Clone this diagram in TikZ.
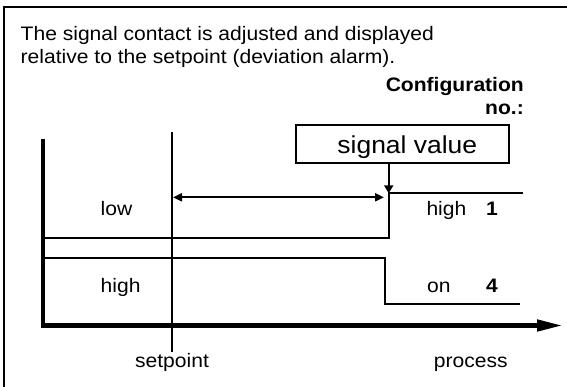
\documentclass[tikz,border=0pt]{standalone}
\usepackage{fontspec}
\setmainfont{Liberation Sans}[FakeStretch=1.08]
\usetikzlibrary{arrows.meta}
\begin{document}
\begin{tikzpicture}[x=1pt,y=-1pt,
  thin line/.style={line width=2pt, line cap=butt},
  axis line/.style={line width=4.5pt, line join=miter},
  txt/.style={inner sep=0pt, anchor=base west, font=\fontsize{19.5}{23}\selectfont},
  ctxt/.style={inner sep=0pt, anchor=base, font=\fontsize{19.5}{23}\selectfont},
  btxt/.style={inner sep=0pt, font=\fontsize{19.5}{23}\selectfont\bfseries},
  smalltip/.tip={Triangle[length=9pt,width=8pt]},
  bigtip/.tip={Triangle[length=26pt,width=11pt]}]
\useasboundingbox (0,0) rectangle (567,387);

% frame (top and left edges)
\coordinate (fTL) at (3.5,7.5);
\coordinate (fTR) at (567,7.5);
\coordinate (fBL) at (3.5,387);
\draw[thin line] (fTR) -- (fTL) -- (fBL);

% heading
\node[txt] (head1) at (20.5,40.7) {The signal contact is adjusted and displayed};
\node[txt] (head2) at (20.5,63.3) {relative to the setpoint (deviation alarm).};
\node[btxt, anchor=base east] (conf) at (524,91.7) {Configuration};
\node[btxt, anchor=base east] (confno) at (524,115) {no.:};

% signal value box
\node[draw, line width=2pt, minimum width=212.7pt, minimum height=38.5pt, inner sep=0pt]
  (sv) at (402.3,144.2) {};
\node[inner sep=0pt, anchor=base, font=\fontsize{24.5}{28}\selectfont] (svtxt) at (407.3,153.3) {signal value};

% axes
\coordinate (yTop) at (43,139);
\coordinate (xEnd) at (563,325.5);
\draw[axis line, -{bigtip}] (yTop) |- (xEnd);

% setpoint line
\coordinate (spTop) at (172,132);
\coordinate (spBot) at (172,352);
\draw[thin line] (spTop) -- (spBot);
\node[ctxt] (setpoint) at (172,367) {setpoint};
\node[ctxt] (process) at (470.7,367) {process};

% hysteresis distance
\coordinate (dA) at (173,197.3);
\coordinate (dB) at (384,197.3);
\draw[thin line, {smalltip}-{smalltip}] (dA) -- (dB);

% signal value pointer
\coordinate (svTip) at (388.7,193.3);
\draw[thin line, -{Triangle[length=8pt,width=9pt]}] (sv.south -| svTip) -- (svTip);

% configuration 1 switching curve
\coordinate (c1a) at (43,237.8);
\coordinate (c1b) at (388.7,237.8);
\coordinate (c1c) at (388.7,193.3);
\coordinate (c1d) at (522.7,193.3);
\draw[thin line, line join=miter] (c1a) -- (c1b) -- (c1c) -- (c1d);

% configuration 4 switching curve
\coordinate (c4a) at (43,257.7);
\coordinate (c4b) at (385.4,257.7);
\coordinate (c4c) at (385.4,303.7);
\coordinate (c4d) at (520.3,303.7);
\draw[thin line, line join=miter] (c4a) -- (c4b) -- (c4c) -- (c4d);

% state labels
\node[txt] (lowL) at (100.5,216) {low};
\node[txt] (highL) at (100.5,292) {high};
\node[txt] (highR) at (426.3,215.3) {high};
\node[txt] (onR) at (427,292) {on};
\node[btxt, anchor=base west] (n1) at (486,215.3) {1};
\node[btxt, anchor=base west] (n4) at (486,292) {4};
\end{tikzpicture}
\end{document}
